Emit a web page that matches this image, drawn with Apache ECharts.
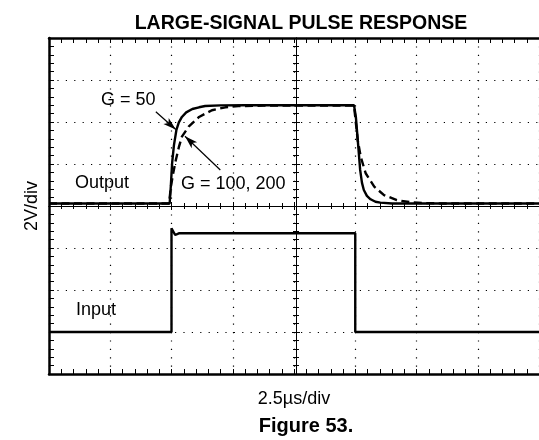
<!DOCTYPE html>
<html>
<head>
<meta charset="utf-8">
<title>Large-Signal Pulse Response</title>
<script src="https://cdn.jsdelivr.net/npm/echarts@6/dist/echarts.min.js"></script>
<style>
  html, body { margin: 0; padding: 0; background: #fff; }
  #chart { width: 539px; height: 440px; }
</style>
</head>
<body>
<div id="chart"></div>
<script>
// Scope traces in screen divisions (x: 2.5 µs/div, y: 2 V/div), 8 x 8 graticule.
const xDivisions = 8;
const yDivisions = 8;

// Output trace, G = 50 (solid)
const outputG50 = [
  [0, 4.06], [1.97, 4.06], [1.99, 4.5], [2.01, 5.02], [2.04, 5.45], [2.08, 5.81],
  [2.12, 5.99], [2.17, 6.12], [2.24, 6.23], [2.34, 6.31], [2.45, 6.35], [2.55, 6.38],
  [2.8, 6.395], [3.2, 6.4], [4.98, 6.4], [5.01, 6.12], [5.05, 5.41], [5.08, 4.86],
  [5.11, 4.55], [5.14, 4.38], [5.19, 4.24], [5.25, 4.16], [5.33, 4.1], [5.41, 4.08],
  [5.6, 4.06], [8, 4.06]
];

// Output trace, G = 100, 200 (dashed)
const outputG100 = [
  [0, 4.06], [1.96, 4.06], [1.99, 4.46], [2.03, 4.8], [2.07, 5.09], [2.12, 5.4],
  [2.17, 5.65], [2.28, 5.89], [2.45, 6.12], [2.66, 6.28], [2.88, 6.35], [3.09, 6.38],
  [3.5, 6.39], [4.98, 6.39], [5.04, 5.57], [5.09, 5.17], [5.17, 4.78], [5.31, 4.46],
  [5.47, 4.26], [5.68, 4.14], [5.9, 4.09], [6.12, 4.07], [6.4, 4.06], [8, 4.06]
];

// Input pulse
const inputPulse = [
  [0, 1.0], [2.0, 1.0], [2.0, 3.47], [2.06, 3.31], [2.12, 3.35], [5.0, 3.35],
  [5.0, 1.0], [8, 1.0]
];

// Annotation arrows: [label end, tip on trace]
const arrowG50 = [[1.744, 6.243], [2.07, 5.82]];
const arrowG100 = [[2.797, 4.856], [2.22, 5.66]];

const FONT = "'Liberation Sans', Arial, Helvetica, sans-serif";
const INK = '#000';

const chart = echarts.init(document.getElementById('chart'), null, { renderer: 'canvas' });

function baseAxis(extra) {
  return Object.assign({
    type: 'value',
    min: 0,
    interval: 1,
    gridIndex: 0,
    axisLabel: { show: false },
    splitLine: { show: false },
    axisLine: { show: true, onZero: false, lineStyle: { color: INK, width: 1 } },
    axisTick: { show: true, inside: true, length: 4, lineStyle: { color: INK, width: 1 } },
    minorTick: { show: true, splitNumber: 5, length: 3, lineStyle: { color: INK, width: 1 } }
  }, extra);
}

const dotted = { show: true, lineStyle: { color: INK, width: 1.2, type: [1.2, 7.2] } };
const border = { show: true, onZero: false, lineStyle: { color: INK, width: 2.5 } };
const borderTick = { show: true, inside: true, length: 5, lineStyle: { color: INK, width: 1 } };
const borderMinor = { show: true, splitNumber: 5, length: 5, lineStyle: { color: INK, width: 1 } };

const option = {
  animation: false,
  backgroundColor: '#fff',
  textStyle: { fontFamily: FONT, color: INK },
  title: {
    text: 'LARGE-SIGNAL PULSE RESPONSE',
    left: 296, top: 9, textAlign: 'center',
    textStyle: { fontFamily: FONT, fontWeight: 'bold', fontSize: 19.5, color: INK }
  },
  grid: { left: 49, top: 38, width: 494, height: 336, containLabel: false },
  xAxis: [
    baseAxis({
      max: xDivisions, position: 'bottom',
      axisLine: border, axisTick: borderTick, minorTick: borderMinor, splitLine: dotted,
      name: '2.5µs/div', nameLocation: 'middle', nameGap: 16,
      nameTextStyle: { fontFamily: FONT, fontSize: 18, color: INK }
    }),
    baseAxis({ max: xDivisions, position: 'top', axisLine: border, axisTick: borderTick, minorTick: borderMinor }),
    baseAxis({ max: xDivisions, position: 'bottom', offset: -168 }),
    baseAxis({ max: xDivisions, position: 'bottom', offset: -168, axisTick: { show: true, inside: false, length: 4, lineStyle: { color: INK } } })
  ],
  yAxis: [
    baseAxis({
      max: yDivisions, position: 'left',
      axisLine: border, axisTick: borderTick, minorTick: borderMinor, splitLine: dotted,
      name: '2V/div', nameLocation: 'middle', nameGap: 8, nameRotate: 90,
      nameTextStyle: { fontFamily: FONT, fontSize: 18, color: INK }
    }),
    baseAxis({ max: yDivisions, position: 'left', offset: -247 }),
    baseAxis({ max: yDivisions, position: 'left', offset: -247, axisTick: { show: true, inside: false, length: 4, lineStyle: { color: INK } } })
  ],
  series: [
    {
      name: 'G = 100, 200', type: 'line', xAxisIndex: 0, yAxisIndex: 0,
      data: outputG100, showSymbol: false, symbol: 'none',
      lineStyle: { color: INK, width: 2.4, type: [8, 4.5] },
      markLine: {
        silent: true, animation: false, label: { show: false },
        lineStyle: { color: INK, width: 1.2, type: 'solid' },
        data: [[
          { coord: arrowG100[0], symbol: 'none' },
          { coord: arrowG100[1], symbol: 'arrow', symbolSize: [6, 13] }
        ]]
      }
    },
    {
      name: 'G = 50', type: 'line', xAxisIndex: 0, yAxisIndex: 0,
      data: outputG50, showSymbol: false, symbol: 'none',
      lineStyle: { color: INK, width: 2.4 },
      markLine: {
        silent: true, animation: false, label: { show: false },
        lineStyle: { color: INK, width: 1.2, type: 'solid' },
        data: [[
          { coord: arrowG50[0], symbol: 'none' },
          { coord: arrowG50[1], symbol: 'arrow', symbolSize: [6, 13] }
        ]]
      }
    },
    {
      name: 'Input', type: 'line', xAxisIndex: 0, yAxisIndex: 0,
      data: inputPulse, showSymbol: false, symbol: 'none',
      lineStyle: { color: INK, width: 2.4 }
    }
  ],
  graphic: [
    { type: 'text', left: 101, top: 91, style: { text: 'G = 50', font: '18px ' + FONT, fill: INK } },
    { type: 'text', left: 75, top: 174, style: { text: 'Output', font: '18px ' + FONT, fill: INK } },
    { type: 'text', left: 181, top: 175, style: { text: 'G = 100, 200', font: '18px ' + FONT, fill: INK } },
    { type: 'text', left: 76, top: 301, style: { text: 'Input', font: '18px ' + FONT, fill: INK } },
    { type: 'text', x: 306, y: 426, style: { text: 'Figure 53.', font: 'bold 20px ' + FONT, fill: INK, textAlign: 'center', textVerticalAlign: 'middle' } }
  ]
};

chart.setOption(option);
</script>
</body>
</html>
